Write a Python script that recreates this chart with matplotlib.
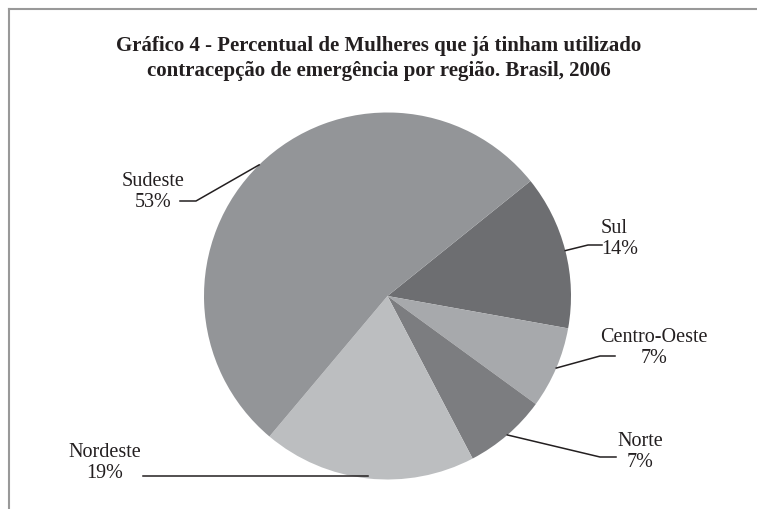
import numpy as np
import matplotlib.pyplot as plt
from matplotlib.lines import Line2D

regioes = ['Sul', 'Centro-Oeste', 'Norte', 'Nordeste', 'Sudeste']
percentuais = [13.6, 7.2, 7.3, 18.8, 53.1]
cores = ['#6d6e71', '#a7a9ac', '#7c7d80', '#bcbec0', '#939598']

titulo = ('Gráfico 4 - Percentual de Mulheres que já tinham utilizado\n'
          'contracepção de emergência por região. Brasil, 2006')

W, H = 757, 510
cx, cy, r = 387.5, 297, 183.5   # centro e raio da pizza em pixels

fig = plt.figure(figsize=(W / 100, H / 100), dpi=100)
ax = fig.add_axes([0, 0, 1, 1])

def px(x, y):
    # pixel da imagem -> coordenadas do eixo
    return (x - cx) / r, (cy - y) / r

wedges, _ = ax.pie(percentuais, colors=cores, startangle=38.8,
                   counterclock=False, radius=1,
                   wedgeprops=dict(linewidth=0))
ax.set_xlim(-cx / r, (W - cx) / r)
ax.set_ylim(-(H - cy) / r, cy / r)
ax.set_aspect('equal')
ax.axis('off')

# posicao do cotovelo, fim da linha e do texto (pixels) para cada rotulo
layout = {
    'Sul':          ((588, 246), (602, 246), (601, 239), 'left'),
    'Centro-Oeste': ((600, 357), (615, 357), (654, 348), 'center'),
    'Norte':        ((600, 458), (616, 458), (640, 452), 'center'),
    'Nordeste':     ((370, 477), (143, 477), (105, 463), 'center'),
    'Sudeste':      ((196, 202), (180, 202), (153, 192), 'center'),
}

fonte = 'Liberation Serif'
for w, nome, v in zip(wedges, regioes, percentuais):
    ang = np.deg2rad((w.theta1 + w.theta2) / 2)
    x0, y0 = np.cos(ang), np.sin(ang)
    cotovelo, fim, texto, ha = layout[nome]
    xe, ye = px(*cotovelo)
    xf, yf = px(*fim)
    if nome == 'Nordeste':
        # linha reta saindo da base da pizza
        y0 = y0 + 0.015
        xe, ye, yf = x0, y0, y0
    ax.add_line(Line2D([x0, xe, xf], [y0, ye, yf], color='#231f20', lw=1.1))
    tx, ty = px(*texto)
    ax.text(tx, ty, f'{nome}\n{round(v):.0f}%', ha=ha, va='center',
            fontsize=14.5, family=fonte, color='#231f20', linespacing=1.15)

fig.text(379 / W, 1 - 58.5 / H, titulo, ha='center', va='center',
         fontsize=15, fontweight='bold', family=fonte, color='#231f20',
         linespacing=1.3)

# moldura (so topo e lado esquerdo visiveis)
fig.add_artist(Line2D([9 / W, 1], [1 - 10 / H, 1 - 10 / H],
                      transform=fig.transFigure, color='#999999', lw=1.5))
fig.add_artist(Line2D([9 / W, 9 / W], [0, 1 - 10 / H],
                      transform=fig.transFigure, color='#999999', lw=1.5))

fig.savefig('out.png', dpi=100)
